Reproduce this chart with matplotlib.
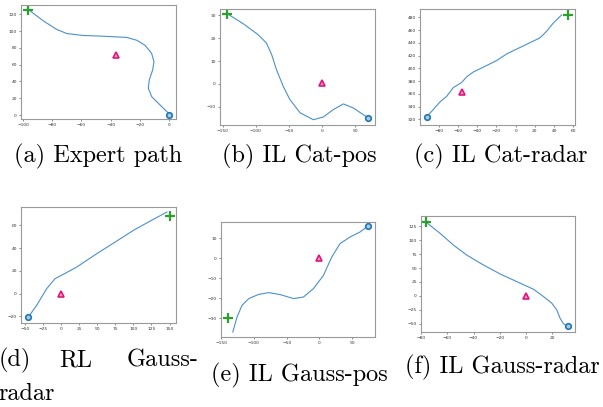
import matplotlib.pyplot as plt

# (a) Expert path
a_x = [-96.3, -86, -77, -70, -58.7, -47, -29, -22, -16.4, -11.9, -10.3, -11.2, -13.5, -14.2, -11.9, -7.3, -0.5]
a_y = [125.5, 112, 102, 97, 94.7, 94, 92.4, 89, 83, 73.4, 63.6, 53.7, 41.8, 32, 22, 14, 2.4]
a_start, a_end, a_tri = (-96.3, 125.5), (0, 0.5), (-36, 71)

# (b) IL Cat-pos
b_x = [-143.4, -119, -96.5, -84, -76, -68.7, -58.6, -48.5, -33, -13, 2, 17, 32.3, 47.5, 69]
b_y = [30.7, 26.3, 21.5, 17.9, 12.8, 6.2, -1, -6.8, -12.6, -15.6, -14.4, -11.2, -8.7, -10.5, -14.7]
b_start, b_end, b_tri = (-143.4, 30.7), (69.2, -14.7), (0, 0.4)

# (c) IL Cat-radar
c_x = [-92.7, -85.8, -78.8, -71.9, -65, -56.3, -51, -44, -33.7, -19.8, -9.4, 1, 11.5, 25.3, 32.3, 39.2, 47.9]
c_y = [324, 335.8, 347.6, 356.3, 370, 378, 387, 394.6, 402, 412.5, 422.8, 430.4, 438, 448, 458.5, 471.3, 484]
c_start, c_end, c_tri = (54.9, 484), (-92.7, 324), (-56.3, 363.5)

# (d) RL Gauss-radar
d_x = [-45.3, -33.7, -19.9, -8.3, 3.2, 21.7, 49.4, 77.1, 100.2, 123.3, 146.4]
d_y = [-20.5, -10.2, 4.4, 13.2, 17, 23.4, 35.1, 46.2, 55.6, 63.7, 71.6]
d_start, d_end, d_tri = (150.1, 67.8), (-45.3, -20.5), (0, 0)

# (e) IL Gauss-pos
e_x = [-132, -125.6, -118, -107.8, -92.7, -77.5, -59.7, -39.5, -24.3, -9.1, 6.1, 18.7, 31.4, 46.6, 61.8, 71.9]
e_y = [-37, -29.5, -23.7, -20.3, -18.2, -17.3, -18.3, -20.3, -19.5, -15.3, -8.7, 0.5, 7.2, 10.5, 13, 15.5]
e_start, e_end, e_tri = (-139.2, -29.8), (73.4, 15.8), (0, 0.2)

# (f) IL Gauss-radar
f_x = [-75.4, -65.3, -55.2, -45, -32.4, -19.7, -7.1, 5.6, 13.2, 19.5, 23.3, 25.8, 28.4, 30.9]
f_y = [131, 112, 91, 73, 55.4, 39.3, 25.6, 11.9, -1.2, -13, -25, -39.9, -50, -53.6]
f_start, f_end, f_tri = (-76, 132.7), (31.6, -54.8), (0, 0.6)

W, H = 603, 407
fig = plt.figure(figsize=(W / 100, H / 100), dpi=100)


def box(l, r, t, b):
    return [l / W, 1 - b / H, (r - l) / W, (b - t) / H]


panels = [
    (box(21, 176, 5, 119), a_x, a_y, a_start, a_end, a_tri, (-101.4, 4.8), (-4.7, 131), range(-100, 1, 20), range(0, 121, 20)),
    (box(220, 375, 9, 125), b_x, b_y, b_start, b_end, b_tri, (-154, 80), (-17.9, 32.7), range(-150, 51, 50), range(-10, 31, 10)),
    (box(420, 575, 9, 125), c_x, c_y, c_start, c_end, c_tri, (-99.7, 61.8), (311.3, 493.3), range(-80, 61, 20), range(320, 481, 20)),
    (box(21, 176, 207, 323), d_x, d_y, d_start, d_end, d_tri, (-55.4, 158.9), (-25.7, 76), range(-50, 151, 25), range(-20, 61, 20)),
    (box(221, 375, 222, 337), e_x, e_y, e_start, e_end, e_tri, (-150, 84.6), (-39.5, 18), range(-150, 51, 50), range(-30, 11, 10)),
    (box(421, 575, 216, 332), f_x, f_y, f_start, f_end, f_tri, (-80, 37.2), (-64.9, 143.5), range(-80, 21, 20), range(-50, 126, 25)),
]

for rect, xs, ys, st, en, tri, xl, yl, xt, yt in panels:
    ax = fig.add_axes(rect)
    ax.plot(xs, ys, color='#4a90cc', lw=0.8)
    ax.plot(*st, marker='+', color='#2ca02c', ms=7, mew=1.6)
    ax.plot(*en, marker='o', color='#1f77b4', mfc='#a9cbe8', ms=4, mew=1.2)
    ax.plot(*tri, marker='^', color='#e0167c', mfc='#f3a0c8', ms=4.5, mew=1.2)
    ax.set_xlim(xl)
    ax.set_ylim(yl)
    ax.set_xticks(list(xt))
    ax.set_yticks(list(yt))
    ax.tick_params(labelsize=3.2, length=1.5, width=0.4, pad=1.5, colors='#333333')
    for s in ax.spines.values():
        s.set_color('#999999')
        s.set_linewidth(0.8)

fs = 17.5
cap = dict(fontfamily='cmr10', fontsize=fs, ha='center', va='center')
fig.text(98 / W, 1 - 156 / H, '(a) Expert path', **cap)
fig.text(299 / W, 1 - 156 / H, '(b) IL Cat-pos', **cap)
fig.text(501 / W, 1 - 156 / H, '(c) IL Cat-radar', **cap)
fig.text(-1 / W, 1 - 360 / H, '(d)', fontfamily='cmr10', fontsize=fs, ha='left', va='center')
fig.text(76 / W, 1 - 360 / H, 'RL', **cap)
fig.text(198 / W, 1 - 360 / H, 'Gauss-', fontfamily='cmr10', fontsize=fs, ha='right', va='center')
fig.text(-2 / W, 1 - 394 / H, 'radar', fontfamily='cmr10', fontsize=fs, ha='left', va='center')
fig.text(299 / W, 1 - 375 / H, '(e) IL Gauss-pos', **cap)
fig.text(502 / W, 1 - 367 / H, '(f) IL Gauss-radar', **cap)

fig.savefig('out.png', dpi=100)
